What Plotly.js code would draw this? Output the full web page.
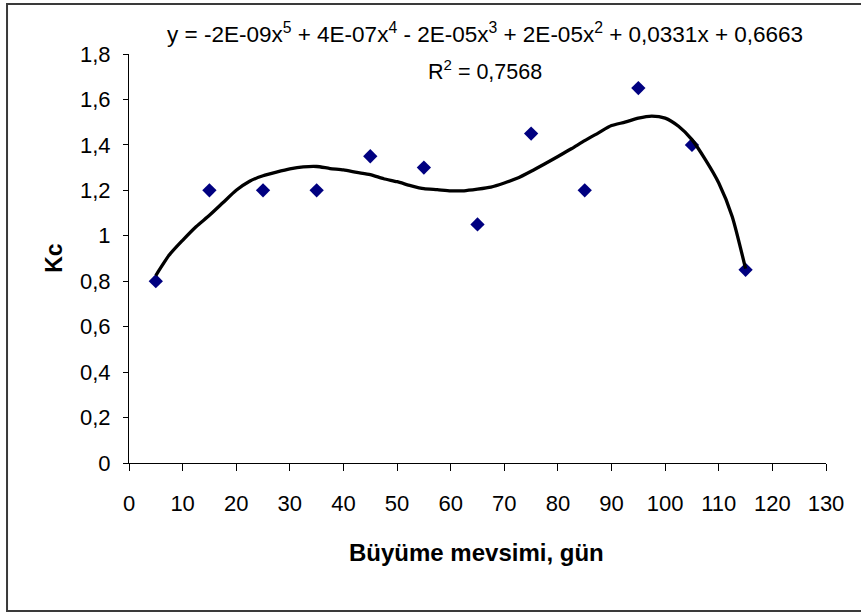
<!DOCTYPE html>
<html>
<head>
<meta charset="utf-8">
<script src="https://cdn.plot.ly/plotly-3.0.1.min.js"></script>
<style>
html,body{margin:0;padding:0;background:#fff;}
#chart{width:861px;height:615px;}
</style>
</head>
<body>
<div id="chart"></div>
<script>
// Measured data (Kc vs growing season day)
const days = [5, 15, 25, 35, 45, 55, 65, 75, 85, 95, 105, 115];
const kc = [0.8, 1.2, 1.2, 1.2, 1.35, 1.3, 1.05, 1.45, 1.2, 1.65, 1.4, 0.85];

// Trendline (polynomial, order 5)
const trendX = [5, 7.5, 10, 12.5, 15, 17.5, 20, 22.5, 25, 27.5, 30, 32.5, 35, 37.5, 40, 42.5, 45, 47.5, 50, 52.5, 55, 57.5, 60, 62.5, 65, 67.5, 70, 72.5, 75, 77.5, 80, 82.5, 85, 87.5, 90, 92.5, 95, 97.5, 100, 102.5, 105, 107.5, 110, 112.5, 115];
const trendY = [0.825, 0.915, 0.98, 1.04, 1.09, 1.145, 1.2, 1.24, 1.264, 1.28, 1.294, 1.303, 1.305, 1.296, 1.29, 1.279, 1.269, 1.251, 1.238, 1.221, 1.207, 1.203, 1.198, 1.198, 1.205, 1.214, 1.232, 1.254, 1.284, 1.316, 1.349, 1.383, 1.419, 1.452, 1.485, 1.5, 1.518, 1.527, 1.518, 1.482, 1.423, 1.335, 1.232, 1.085, 0.855];

// Texts
const equationText = 'y = -2E-09x<sup>5</sup> + 4E-07x<sup>4</sup> - 2E-05x<sup>3</sup> + 2E-05x<sup>2</sup> + 0,0331x + 0,6663';
const r2Text = 'R<sup>2</sup> = 0,7568';
const xTitle = 'Büyüme mevsimi, gün';
const yTitle = 'Kc';

const FONT = 'Liberation Sans, Arial, sans-serif';

const traces = [
  {
    x: days, y: kc, type: 'scatter', mode: 'markers',
    marker: {symbol: 'diamond', size: 11, color: '#000080'},
    hoverinfo: 'x+y', showlegend: false
  },
  {
    x: trendX, y: trendY, type: 'scatter', mode: 'lines',
    line: {color: '#000000', width: 3.3, shape: 'spline', smoothing: 0.6},
    hoverinfo: 'skip', showlegend: false
  }
];

const layout = {
  width: 861, height: 615,
  margin: {l: 129, r: 35, t: 54, b: 152},
  paper_bgcolor: '#ffffff', plot_bgcolor: '#ffffff',
  separators: ', ',
  font: {family: FONT, size: 22, color: '#000000'},
  showlegend: false,
  xaxis: {
    range: [0, 130], dtick: 10, tick0: 0,
    showgrid: false, zeroline: false,
    showline: true, linecolor: '#000000', linewidth: 1,
    ticks: 'outside', ticklen: 7, tickcolor: '#000000', tickwidth: 1,
    ticklabelstandoff: 14,
    tickfont: {family: FONT, size: 22, color: '#000000'},
    fixedrange: true
  },
  yaxis: {
    range: [0, 1.8], dtick: 0.2, tick0: 0,
    showgrid: false, zeroline: false,
    showline: true, linecolor: '#000000', linewidth: 1,
    ticks: 'outside', ticklen: 5, tickcolor: '#000000', tickwidth: 1,
    ticklabelstandoff: 8,
    tickfont: {family: FONT, size: 22, color: '#000000'},
    fixedrange: true
  },
  annotations: [
    {text: equationText, xref: 'paper', yref: 'paper', x: 0.511, y: 1.051,
     xanchor: 'center', yanchor: 'middle', showarrow: false,
     font: {family: FONT, size: 22.5, color: '#000000'}},
    {text: r2Text, xref: 'paper', yref: 'paper', x: 0.511, y: 0.962,
     xanchor: 'center', yanchor: 'middle', showarrow: false,
     font: {family: FONT, size: 21.5, color: '#000000'}},
    {text: '<b>' + xTitle + '</b>', xref: 'paper', yref: 'paper', x: 0.499, y: -0.219,
     xanchor: 'center', yanchor: 'middle', showarrow: false,
     font: {family: FONT, size: 24, color: '#000000'}},
    {text: '<b>' + yTitle + '</b>', xref: 'paper', yref: 'paper', x: -0.108, y: 0.501,
     xanchor: 'center', yanchor: 'middle', showarrow: false, textangle: -90,
     font: {family: FONT, size: 23, color: '#000000'}}
  ],
  shapes: [
    {type: 'rect', xref: 'paper', yref: 'paper',
     x0: -0.175, x1: 1.07, y0: -0.362, y1: 1.122,
     line: {color: '#3a3a3a', width: 2}, fillcolor: 'rgba(0,0,0,0)', layer: 'below'}
  ]
};

Plotly.newPlot('chart', traces, layout, {displayModeBar: false, staticPlot: true});
</script>
</body>
</html>
